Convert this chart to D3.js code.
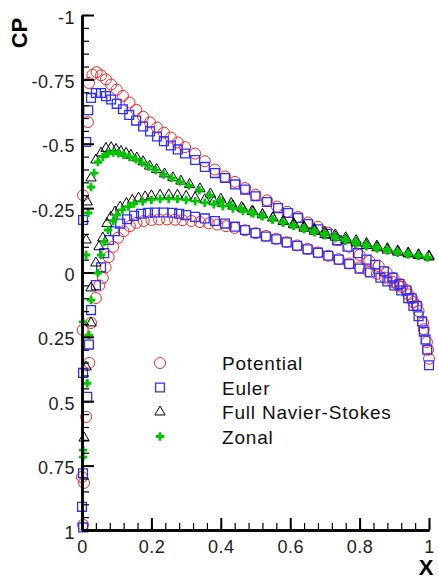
<!DOCTYPE html>
<html>
<head>
<meta charset="utf-8">
<script src="https://cdn.jsdelivr.net/npm/d3@7"></script>
<style>
	body { margin: 0; background: #fff; }
	svg { display: block; font-family: "Liberation Sans", Arial, sans-serif; }
</style>
</head>
<body>
<div id="chart"></div>
<script>
(function () {

	var seriesNames = ["Potential", "Euler", "Full Navier-Stokes", "Zonal"];

	var yTicks = [-1, -0.75, -0.5, -0.25, 0, 0.25, 0.5, 0.75, 1];
	var yTickLabels = ["-1", "-0.75", "-0.5", "-0.25", "0", "0.25", "0.5", "0.75", "1"];
	var xTicks = [0, 0.2, 0.4, 0.6, 0.8, 1];
	var xTickLabels = ["0", "0.2", "0.4", "0.6", "0.8", "1"];

	// [x, cp] pairs: leading edge, upper surface, lower surface
	var potential = [
		[0.003, 0.98], [0.006, 0.817], [0.0, 0.794], [0.012, 0.561], [0.021, 0.351], [0.002, 0.223],
		[0.003, -0.3], [0.017, -0.584], [0.02, -0.736],
		[0.03, -0.768], [0.042, -0.778], [0.055, -0.766], [0.069, -0.75], [0.084, -0.73], [0.1, -0.71],
		[0.118, -0.686], [0.137, -0.66], [0.156, -0.632], [0.176, -0.605], [0.196, -0.583], [0.216, -0.563],
		[0.236, -0.543], [0.256, -0.524], [0.276, -0.505], [0.297, -0.487], [0.326, -0.462], [0.354, -0.432],
		[0.383, -0.4], [0.412, -0.373], [0.441, -0.352], [0.47, -0.328], [0.5, -0.302], [0.533, -0.28],
		[0.562, -0.256], [0.591, -0.236], [0.622, -0.216], [0.651, -0.194], [0.68, -0.177], [0.709, -0.155],
		[0.738, -0.125], [0.77, -0.1], [0.8, -0.068], [0.828, -0.045], [0.855, -0.025], [0.878, 0.0],
		[0.898, 0.022], [0.917, 0.045], [0.935, 0.068], [0.951, 0.1], [0.965, 0.128], [0.983, 0.196],
		[0.994, 0.27], [1.0, 0.335],
		[0.026, 0.196], [0.04, 0.099], [0.05, 0.05], [0.06, 0.021], [0.068, -0.02], [0.077, -0.06],
		[0.09, -0.1], [0.104, -0.135], [0.12, -0.16], [0.138, -0.18], [0.157, -0.193], [0.178, -0.2],
		[0.2, -0.204], [0.222, -0.206], [0.245, -0.206], [0.268, -0.205], [0.29, -0.203], [0.315, -0.2],
		[0.34, -0.196], [0.365, -0.191], [0.39, -0.186], [0.415, -0.18], [0.44, -0.173], [0.47, -0.164],
		[0.5, -0.153], [0.53, -0.142], [0.56, -0.131], [0.59, -0.118], [0.62, -0.105], [0.65, -0.092],
		[0.68, -0.078], [0.71, -0.065], [0.74, -0.052], [0.77, -0.035], [0.8, -0.02], [0.825, -0.005],
		[0.85, 0.005], [0.873, 0.02], [0.896, 0.037], [0.91, 0.05], [0.922, 0.056], [0.94, 0.085],
		[0.955, 0.115], [0.97, 0.15], [0.985, 0.22], [0.997, 0.3]
	];

	var euler = [
		[0.003, 0.99], [0.0, 0.91], [0.003, 0.78], [0.015, 0.483], [0.003, 0.39], [0.02, 0.28],
		[0.003, -0.204], [0.012, -0.507], [0.018, -0.63],
		[0.026, -0.678], [0.04, -0.697], [0.055, -0.697], [0.069, -0.685], [0.084, -0.672], [0.1, -0.655],
		[0.118, -0.634], [0.136, -0.612], [0.156, -0.59], [0.176, -0.567], [0.196, -0.548], [0.216, -0.528],
		[0.236, -0.51], [0.256, -0.493], [0.276, -0.478], [0.297, -0.462], [0.326, -0.437], [0.354, -0.41],
		[0.383, -0.386], [0.412, -0.367], [0.441, -0.342], [0.47, -0.322], [0.5, -0.296], [0.533, -0.274],
		[0.565, -0.25], [0.594, -0.231], [0.622, -0.212], [0.651, -0.188], [0.68, -0.168], [0.706, -0.15],
		[0.735, -0.125], [0.765, -0.1], [0.795, -0.075], [0.82, -0.05], [0.845, -0.03], [0.87, -0.005],
		[0.895, 0.02], [0.915, 0.045], [0.935, 0.07], [0.95, 0.1], [0.965, 0.13], [0.98, 0.19], [0.99, 0.26],
		[0.026, 0.146], [0.04, 0.049], [0.055, -0.02], [0.064, -0.075], [0.078, -0.126], [0.095, -0.16],
		[0.11, -0.19], [0.13, -0.207], [0.15, -0.22], [0.17, -0.228], [0.19, -0.232], [0.21, -0.233],
		[0.235, -0.233], [0.26, -0.232], [0.28, -0.228], [0.3, -0.223], [0.326, -0.216], [0.354, -0.21],
		[0.383, -0.2], [0.412, -0.19], [0.441, -0.178], [0.47, -0.165], [0.5, -0.153], [0.53, -0.14],
		[0.56, -0.129], [0.59, -0.117], [0.62, -0.104], [0.65, -0.09], [0.68, -0.077], [0.71, -0.065],
		[0.74, -0.05], [0.77, -0.033], [0.8, -0.015], [0.83, 0.0], [0.86, 0.02], [0.88, 0.035],
		[0.9, 0.05], [0.92, 0.07], [0.94, 0.1], [0.955, 0.13], [0.97, 0.17], [0.985, 0.23],
		[0.995, 0.3], [1.0, 0.36]
	];

	var navierStokes = [
		[0.006, 0.643], [0.012, 0.367], [0.026, 0.196], [0.012, -0.126], [0.015, -0.274],
		[0.026, -0.367], [0.04, -0.437], [0.055, -0.464], [0.069, -0.482], [0.084, -0.485], [0.098, -0.478],
		[0.112, -0.47], [0.127, -0.463], [0.141, -0.455], [0.158, -0.445], [0.176, -0.43], [0.195, -0.413],
		[0.215, -0.4], [0.238, -0.383], [0.262, -0.368], [0.285, -0.355], [0.31, -0.342], [0.34, -0.325],
		[0.37, -0.305], [0.4, -0.285], [0.43, -0.268], [0.46, -0.253], [0.49, -0.238], [0.52, -0.225],
		[0.55, -0.213], [0.58, -0.2], [0.61, -0.19], [0.64, -0.178], [0.67, -0.167], [0.7, -0.157],
		[0.73, -0.146], [0.76, -0.135], [0.79, -0.124], [0.82, -0.113], [0.85, -0.103], [0.88, -0.093],
		[0.91, -0.084], [0.94, -0.076], [0.97, -0.069], [1.0, -0.064],
		[0.026, 0.06], [0.04, -0.037], [0.049, -0.1], [0.06, -0.134], [0.072, -0.19], [0.083, -0.215],
		[0.095, -0.235], [0.11, -0.254], [0.128, -0.268], [0.145, -0.28], [0.163, -0.289], [0.182, -0.294],
		[0.2, -0.298], [0.225, -0.3], [0.25, -0.301], [0.275, -0.3], [0.3, -0.296], [0.326, -0.29],
		[0.354, -0.283], [0.38, -0.276], [0.406, -0.268], [0.435, -0.258], [0.464, -0.247], [0.493, -0.236],
		[0.52, -0.224], [0.55, -0.212], [0.58, -0.198], [0.61, -0.185], [0.64, -0.172], [0.67, -0.16],
		[0.7, -0.148], [0.73, -0.137], [0.76, -0.126], [0.79, -0.115], [0.82, -0.105], [0.85, -0.096],
		[0.88, -0.087], [0.91, -0.079], [0.94, -0.072], [0.97, -0.066], [1.0, -0.06]
	];

	var zonal = [
		[0.003, 0.717], [0.003, 0.69], [0.015, 0.43], [0.02, 0.243], [0.003, 0.192], [0.012, -0.068],
		[0.018, -0.231],
		[0.026, -0.332], [0.035, -0.386], [0.046, -0.429], [0.06, -0.449], [0.075, -0.462], [0.09, -0.466],
		[0.105, -0.463], [0.12, -0.457], [0.137, -0.449], [0.155, -0.44], [0.173, -0.427], [0.192, -0.412],
		[0.212, -0.398], [0.235, -0.381], [0.258, -0.367], [0.282, -0.353], [0.308, -0.338], [0.338, -0.32],
		[0.368, -0.3], [0.398, -0.28], [0.428, -0.263], [0.458, -0.248], [0.488, -0.233], [0.518, -0.22],
		[0.548, -0.207], [0.578, -0.195], [0.608, -0.184], [0.638, -0.173], [0.668, -0.162], [0.698, -0.152],
		[0.728, -0.141], [0.758, -0.13], [0.788, -0.12], [0.818, -0.109], [0.848, -0.099], [0.878, -0.09],
		[0.908, -0.081], [0.938, -0.073], [0.968, -0.066], [0.995, -0.061],
		[0.026, 0.107], [0.046, 0.002], [0.055, -0.068], [0.064, -0.118], [0.075, -0.165], [0.09, -0.2],
		[0.1, -0.223], [0.116, -0.243], [0.134, -0.256], [0.15, -0.268], [0.175, -0.276], [0.2, -0.282],
		[0.225, -0.285], [0.25, -0.286], [0.275, -0.285], [0.3, -0.282], [0.326, -0.277], [0.354, -0.271],
		[0.38, -0.265], [0.406, -0.258], [0.435, -0.249], [0.464, -0.239], [0.493, -0.229], [0.52, -0.218],
		[0.55, -0.206], [0.58, -0.193], [0.61, -0.181], [0.64, -0.168], [0.67, -0.156], [0.7, -0.145],
		[0.73, -0.134], [0.76, -0.123], [0.79, -0.112], [0.82, -0.102], [0.85, -0.093], [0.88, -0.085],
		[0.91, -0.077], [0.94, -0.07], [0.97, -0.064], [0.995, -0.058]
	];

	var width = 438, height = 579;

	var x = d3.scaleLinear().domain([0, 1]).range([82, 429]);
	var y = d3.scaleLinear().domain([-1, 1]).range([15, 530]);

	var svg = d3.select("#chart")
				.append("svg")
				.attr("width", width)
				.attr("height", height);

	// marker styles, one per series
	var styles = [
		{ type: d3.symbolCircle, size: 95, fill: "none", stroke: "#ff2626", sw: 1 },
		{ type: d3.symbolSquare, size: 78, fill: "none", stroke: "#2f2fff", sw: 1.3 },
		{ type: d3.symbolTriangle, size: 46, fill: "none", stroke: "#000", sw: 1 },
		{ type: d3.symbolCross, size: 40, fill: "#00c800", stroke: "none", sw: 0 }
	];
	var allSeries = [potential, euler, navierStokes, zonal];

	allSeries.forEach(function(data, i) {
		var st = styles[i];
		svg.append("g")
			.selectAll("path")
			.data(data)
			.enter()
			.append("path")
			.attr("transform", function(d) { return "translate(" + x(d[0]) + "," + y(d[1]) + ")"; })
			.attr("d", d3.symbol().type(st.type).size(st.size))
			.style("fill", st.fill)
			.style("stroke", st.stroke)
			.style("stroke-width", st.sw);
	});

	// axes: minor ticks first, then majors with labels
	var yMinor = d3.range(-1, 1.0001, 0.05);
	var xMinor = d3.range(0, 1.0001, 0.04);

	svg.append("g")
		.attr("transform", "translate(82,0)")
		.call(d3.axisLeft(y).tickValues(yMinor).tickSize(-7).tickSizeOuter(0).tickFormat(""));

	svg.append("g")
		.attr("transform", "translate(0,530)")
		.call(d3.axisBottom(x).tickValues(xMinor).tickSize(-7).tickSizeOuter(0).tickFormat(""));

	var yAxis = svg.append("g")
		.attr("class", "major")
		.attr("transform", "translate(82,0)")
		.call(d3.axisLeft(y).tickValues(yTicks).tickSize(-12).tickSizeOuter(0).tickPadding(7)
			.tickFormat(function(d, i) { return yTickLabels[i]; }));

	var xAxis = svg.append("g")
		.attr("class", "major")
		.attr("transform", "translate(0,530)")
		.call(d3.axisBottom(x).tickValues(xTicks).tickSize(-12).tickSizeOuter(0).tickPadding(10)
			.tickFormat(function(d, i) { return xTickLabels[i]; }));

	svg.selectAll(".domain").style("stroke", "#000").style("stroke-width", 2.5);
	svg.selectAll(".tick line").style("stroke", "#000").style("stroke-width", 1.2);
	svg.selectAll(".major .tick line").style("stroke-width", 2);
	svg.selectAll(".major .tick text")
		.style("font-size", "18px")
		.style("letter-spacing", "0.5px")
		.style("fill", "#222")
		.style("font-family", "'Liberation Sans', Arial, sans-serif");
	yAxis.selectAll(".tick text").attr("dy", "0.45em");

	// axis titles
	svg.append("text")
		.attr("transform", "translate(27,33) rotate(-90)")
		.attr("text-anchor", "middle")
		.style("font-weight", "bold")
		.style("font-size", "22px")
		.text("CP");

	svg.append("text")
		.attr("x", 426)
		.attr("y", 575)
		.attr("text-anchor", "middle")
		.style("font-weight", "bold")
		.style("font-size", "22px")
		.text("X");

	// legend
	var legend = svg.append("g")
					.selectAll("g")
					.data(seriesNames)
					.enter()
					.append("g")
					.attr("transform", function(d, i) { return "translate(0," + (363 + i * 24.5) + ")"; });

	legend.append("path")
		.attr("transform", "translate(160,0)")
		.attr("d", function(d, i) { return d3.symbol().type(styles[i].type).size(styles[i].size)(); })
		.style("fill", function(d, i) { return styles[i].fill; })
		.style("stroke", function(d, i) { return styles[i].stroke; })
		.style("stroke-width", function(d, i) { return styles[i].sw; });

	legend.append("text")
		.attr("x", 222)
		.attr("y", 7)
		.style("font-size", "19px")
		.style("letter-spacing", "0.8px")
		.style("fill", "#111")
		.text(function(d) { return d; });

}) ();
</script>
</body>
</html>
